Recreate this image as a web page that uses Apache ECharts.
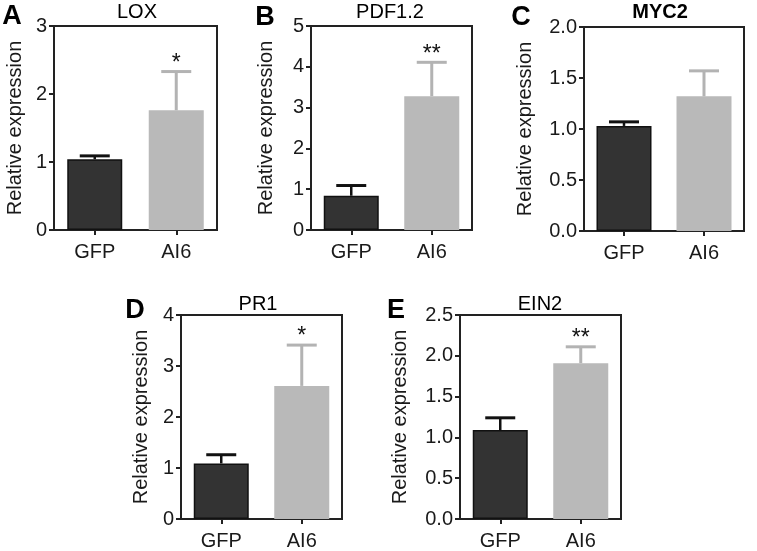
<!DOCTYPE html>
<html>
<head>
<meta charset="utf-8">
<script src="https://cdn.jsdelivr.net/npm/echarts@6/dist/echarts.min.js"></script>
<style>
  html, body { margin: 0; padding: 0; background: #fff; }
  #chart { width: 757px; height: 551px; }
</style>
</head>
<body>
<div id="chart"></div>
<script>
// ---- data ----
const categories = ['GFP', 'AI6'];
const genes = ['LOX', 'PDF1.2', 'MYC2', 'PR1', 'EIN2'];
const panelLetters = ['A', 'B', 'C', 'D', 'E'];
const gfpMean = [1.04, 0.84, 1.03, 1.09, 1.09];
const gfpErr  = [0.05, 0.25, 0.04, 0.17, 0.15];
const ai6Mean = [1.76, 3.28, 1.32, 2.61, 1.91];
const ai6Err  = [0.57, 0.83, 0.25, 0.80, 0.20];
const signif  = ['*', '**', '', '*', '**'];
const yMax    = [3, 5, 2, 4, 2.5];
const yStep   = [1, 1, 0.5, 1, 0.5];
const yDecimals = [0, 0, 1, 0, 1];
const yAxisName = 'Relative expression';

// ---- layout ----
const FONT = "'Liberation Sans', Arial, Helvetica, sans-serif";
const grids = [
  { left: 54,  top: 26,  width: 163, height: 204 },
  { left: 311, top: 26,  width: 161, height: 204 },
  { left: 584, top: 27,  width: 160, height: 204 },
  { left: 181, top: 315, width: 161, height: 205 },
  { left: 460, top: 315, width: 161, height: 205 }
];
const nameGaps = [29, 35, 49, 30, 50];
const letterPos = [[12, 17], [265, 18], [521, 18], [135, 311], [396, 311]];
const titlePos = [[137, 12], [390, 12], [660, 12], [258, 304], [540, 304]];
const titleBold = [false, false, true, false, false];

const AXIS = '#222';
const TEXT = '#1a1a1a';
const GFP_COLOR = '#333333';
const AI6_COLOR = '#b9b9b9';

const option = {
  animation: false,
  backgroundColor: '#ffffff',
  grid: grids.map(g => Object.assign({
    show: true, borderColor: AXIS, borderWidth: 2, backgroundColor: 'transparent', containLabel: false
  }, g)),
  xAxis: genes.map((_, i) => ({
    type: 'category',
    gridIndex: i,
    data: categories,
    axisLine: { show: true, lineStyle: { color: AXIS, width: 2 } },
    axisTick: { show: true, alignWithLabel: true, length: 5, lineStyle: { color: AXIS, width: 2 } },
    axisLabel: { color: TEXT, fontSize: 20, fontFamily: FONT, margin: 12 },
    splitLine: { show: false }
  })),
  yAxis: genes.map((_, i) => ({
    type: 'value',
    gridIndex: i,
    min: 0,
    max: yMax[i],
    interval: yStep[i],
    name: yAxisName,
    nameLocation: 'middle',
    nameRotate: 90,
    nameGap: nameGaps[i],
    nameTextStyle: { color: TEXT, fontSize: 20, fontFamily: FONT },
    axisLine: { show: true, lineStyle: { color: AXIS, width: 2 } },
    axisTick: { show: true, length: 5, lineStyle: { color: AXIS, width: 2 } },
    axisLabel: {
      color: TEXT, fontSize: 20, fontFamily: FONT, margin: 7,
      formatter: v => Number(v).toFixed(yDecimals[i])
    },
    splitLine: { show: false }
  })),
  graphic: [].concat(
    panelLetters.map((t, i) => ({
      type: 'text', x: letterPos[i][0], y: letterPos[i][1],
      style: { text: t, fontSize: 27, fontWeight: 'bold', fontFamily: FONT, fill: '#000',
               textAlign: 'center', textVerticalAlign: 'middle' }
    })),
    genes.map((t, i) => ({
      type: 'text', x: titlePos[i][0], y: titlePos[i][1],
      style: { text: t, fontSize: 20, fontWeight: titleBold[i] ? 'bold' : 'normal', fontFamily: FONT, fill: '#000',
               textAlign: 'center', textVerticalAlign: 'middle' }
    }))
  ),
  series: [].concat(
    genes.map((_, i) => ({
      type: 'bar',
      xAxisIndex: i,
      yAxisIndex: i,
      barWidth: 55,
      data: [
        { value: gfpMean[i], itemStyle: { color: GFP_COLOR, borderColor: '#111', borderWidth: 1.5 } },
        { value: ai6Mean[i], itemStyle: { color: AI6_COLOR } }
      ],
      z: 2
    })),
    genes.map((_, i) => ({
      type: 'custom',
      xAxisIndex: i,
      yAxisIndex: i,
      z: 5,
      encode: { x: 0, y: 1 },
      data: [
        [0, gfpMean[i], gfpErr[i]],
        [1, ai6Mean[i], ai6Err[i]]
      ],
      renderItem: function (params, api) {
        const x = api.value(0), m = api.value(1), e = api.value(2);
        const p0 = api.coord([x, m]);
        const p1 = api.coord([x, m + e]);
        const color = x === 0 ? '#111' : '#b3b3b3';
        const children = [
          { type: 'line', shape: { x1: p0[0], y1: p0[1], x2: p1[0], y2: p1[1] },
            style: { stroke: color, lineWidth: x === 0 ? 2.5 : 3 } },
          { type: 'line', shape: { x1: p1[0] - 15, y1: p1[1], x2: p1[0] + 15, y2: p1[1] },
            style: { stroke: color, lineWidth: 3 } }
        ];
        if (x === 1 && signif[i]) {
          children.push({ type: 'text', x: p1[0], y: p1[1] - 8,
            style: { text: signif[i], fontSize: 23, fontFamily: FONT, fill: '#111',
                     textAlign: 'center', textVerticalAlign: 'middle' } });
        }
        return { type: 'group', children: children };
      }
    }))
  )
};

const chart = echarts.init(document.getElementById('chart'), null, { renderer: 'canvas' });
chart.setOption(option);
</script>
</body>
</html>
